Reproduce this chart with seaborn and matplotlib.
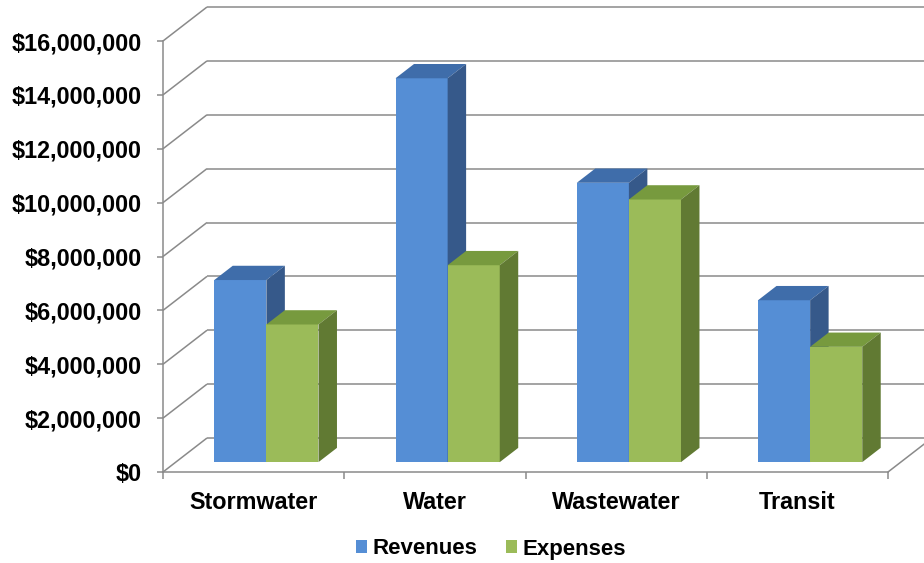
import matplotlib
matplotlib.use("Agg")
import matplotlib.pyplot as plt
from matplotlib.patches import Polygon, Patch
import seaborn as sns
import pandas as pd
import numpy as np

# ---- data ----
categories = ["Stormwater", "Water", "Wastewater", "Transit"]
series = ["Revenues", "Expenses"]
revenues = [6.76e6, 14.25e6, 10.37e6, 6.01e6]
expenses = [5.11e6, 7.31e6, 9.75e6, 4.28e6]
yticks = [0, 2e6, 4e6, 6e6, 8e6, 10e6, 12e6, 14e6, 16e6]
ytick_labels = ["$0", "$2,000,000", "$4,000,000", "$6,000,000", "$8,000,000",
                "$10,000,000", "$12,000,000", "$14,000,000", "$16,000,000"]

# ---- style ----
front_colors = {"Revenues": "#558ED5", "Expenses": "#9BBB59"}
top_colors = {"Revenues": "#3F6DAA", "Expenses": "#779A3E"}
side_colors = {"Revenues": "#36598A", "Expenses": "#617A33"}
GRID = "#8A8A8A"

sns.set_style("white")
plt.rcParams["font.family"] = ["Liberation Sans", "DejaVu Sans"]
plt.rcParams["font.weight"] = "bold"
plt.rcParams["text.color"] = "black"

W, H = 924, 563
fig = plt.figure(figsize=(W / 100, H / 100), dpi=100)
ax = fig.add_axes([163 / W, (H - 472) / H, (888 - 163) / W, (472 - 41) / H])

df = pd.DataFrame({
    "Category": categories * 2,
    "Series": ["Revenues"] * len(categories) + ["Expenses"] * len(categories),
    "Value": revenues + expenses,
})

sns.barplot(data=df, x="Category", y="Value", hue="Series", hue_order=series,
            order=categories, palette=[front_colors[s] for s in series],
            width=0.575, saturation=1, linewidth=0, legend=False, ax=ax,
            errorbar=None)

ax.set_xlim(-0.5, len(categories) - 0.5)
ax.set_ylim(0, 16e6)

# depth offsets (display px -> data units)
DX, DY = 44.0, 34.0


def off(f):
    p0 = ax.transData.transform((0, 0))
    p1 = p0 + np.array([f * DX, f * DY])
    d = ax.transData.inverted().transform(p1)
    return d[0], d[1]


fx, fy = off(1.0)
x0, x1 = -0.5, len(categories) - 0.5

# gridlines on left wall + back wall
for v in yticks:
    ax.plot([x0, x0 + fx], [v, v + fy], color=GRID, lw=1.1, zorder=0.5, clip_on=False,
            solid_capstyle="butt")
    ax.plot([x0 + fx, x1 + fx + 0.2], [v + fy, v + fy], color=GRID, lw=1.1, zorder=0.5,
            clip_on=False, solid_capstyle="butt")
# floor right edge
ax.plot([x1, x1 + fx], [0, fy], color=GRID, lw=1.1, zorder=0.5, clip_on=False)

# 3D bars
f_front, f_back = 0.29, 0.71
ox1, oy1 = off(f_front)
ox2, oy2 = off(f_back)
ddx, ddy = ox2 - ox1, oy2 - oy1

z = 2
for ci in range(len(categories)):
    for si, s in enumerate(series):
        bar = ax.containers[si][ci]
        bx, bw, bh = bar.get_x(), bar.get_width(), bar.get_height()
        bar.set_x(bx + ox1)
        bar.set_y(oy1)
        bar.set_zorder(z)
        L, R, B, T = bx + ox1, bx + ox1 + bw, oy1, oy1 + bh
        top = Polygon([(L, T), (R, T), (R + ddx, T + ddy), (L + ddx, T + ddy)],
                      closed=True, facecolor=top_colors[s], edgecolor="none",
                      zorder=z + 0.1, clip_on=False)
        side = Polygon([(R, B), (R + ddx, B + ddy), (R + ddx, T + ddy), (R, T)],
                       closed=True, facecolor=side_colors[s], edgecolor="none",
                       zorder=z + 0.1, clip_on=False)
        ax.add_patch(top)
        ax.add_patch(side)
        z += 1

# axes
for sp in ["top", "right"]:
    ax.spines[sp].set_visible(False)
for sp in ["left", "bottom"]:
    ax.spines[sp].set_color(GRID)
    ax.spines[sp].set_linewidth(1.1)
    ax.spines[sp].set_zorder(0.6)

ax.set_yticks(yticks)
ax.set_yticklabels(ytick_labels)
ax.set_xticks(range(len(categories)))
ax.set_xticklabels(categories)
ax.set_xticks(np.arange(-0.5, len(categories), 1.0), minor=True)
ax.tick_params(axis="y", which="major", length=4.5, width=1.1, color=GRID,
               direction="out", pad=11, labelsize=16.8, left=True)
ax.tick_params(axis="x", which="major", length=0, pad=14, labelsize=16.8)
ax.tick_params(axis="x", which="minor", length=5, width=1.1, color=GRID,
               direction="out", bottom=True)
for lbl in ax.get_xticklabels() + ax.get_yticklabels():
    lbl.set_fontweight("bold")
    lbl.set_color("black")
ax.set_xlabel("")
ax.set_ylabel("")
ax.patch.set_alpha(0)

handles = [Patch(facecolor=front_colors[s], edgecolor="none", label=s) for s in series]
leg = fig.legend(handles=handles, loc="center", bbox_to_anchor=(491 / W, 1 - 549 / H),
                 ncol=2, frameon=False, handlelength=0.5, handleheight=0.5,
                 handletextpad=0.25, columnspacing=1.25,
                 prop={"weight": "bold", "size": 16})
for t in leg.get_texts():
    t.set_color("black")

fig.savefig("out.png", dpi=100)
